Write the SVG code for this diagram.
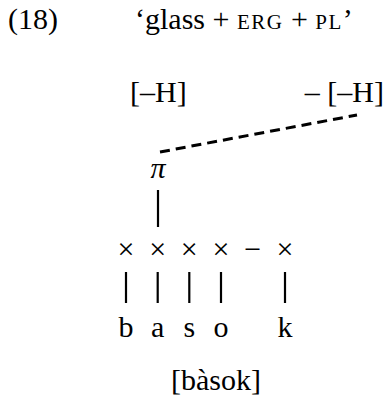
<svg xmlns="http://www.w3.org/2000/svg" width="386" height="400" viewBox="0 0 386 400">
<style>
text{font-family:"Liberation Serif","Times New Roman",serif;fill:#000;font-size:30px}
.sc{font-size:21px;letter-spacing:1.5px}
.c{text-anchor:middle}
.ln{stroke:#000;stroke-width:2.2;fill:none}
</style>
<rect width="386" height="400" fill="#fff"/>
<g id="title">
<text x="8" y="29" font-size="31">(18)</text>
<text x="135" y="29" font-size="27">‘glass + <tspan class="sc">ERG</tspan> + <tspan class="sc">PL</tspan>’</text>
</g>
<g id="tones">
<text id="h1" x="130" y="102" font-size="29">[–H]</text>
<text id="h2" x="384" y="102" font-size="29" text-anchor="end">– [–H]</text>
</g>
<g id="pi"><text class="c" x="158" y="178" font-style="italic" font-size="28">π</text></g>
<g id="skeleton">
<text class="c" x="126" y="259">×</text>
<text class="c" x="157.7" y="259">×</text>
<text class="c" x="189.3" y="259">×</text>
<text class="c" x="221" y="259">×</text>
<text class="c" x="252.7" y="259">−</text>
<text class="c" x="285" y="259">×</text>
</g>
<g id="segments">
<text class="c" x="126" y="337">b</text>
<text class="c" x="157.7" y="337">a</text>
<text class="c" x="189.3" y="337">s</text>
<text class="c" x="221" y="337">o</text>
<text class="c" x="285" y="337">k</text>
</g>
<g id="output"><text class="c" x="216" y="390" font-size="32">[bàsok]</text></g>
<g id="connectors">
<line x1="160" y1="152" x2="357" y2="115" stroke="#000" stroke-width="3" stroke-dasharray="10 6"/>
<line class="ln" x1="158" y1="190" x2="158" y2="227"/>
<line class="ln" x1="126" y1="272" x2="126" y2="303"/>
<line class="ln" x1="157.7" y1="272" x2="157.7" y2="303"/>
<line class="ln" x1="189.3" y1="272" x2="189.3" y2="303"/>
<line class="ln" x1="221" y1="272" x2="221" y2="303"/>
<line class="ln" x1="285" y1="272" x2="285" y2="303"/>
</g>
</svg>
